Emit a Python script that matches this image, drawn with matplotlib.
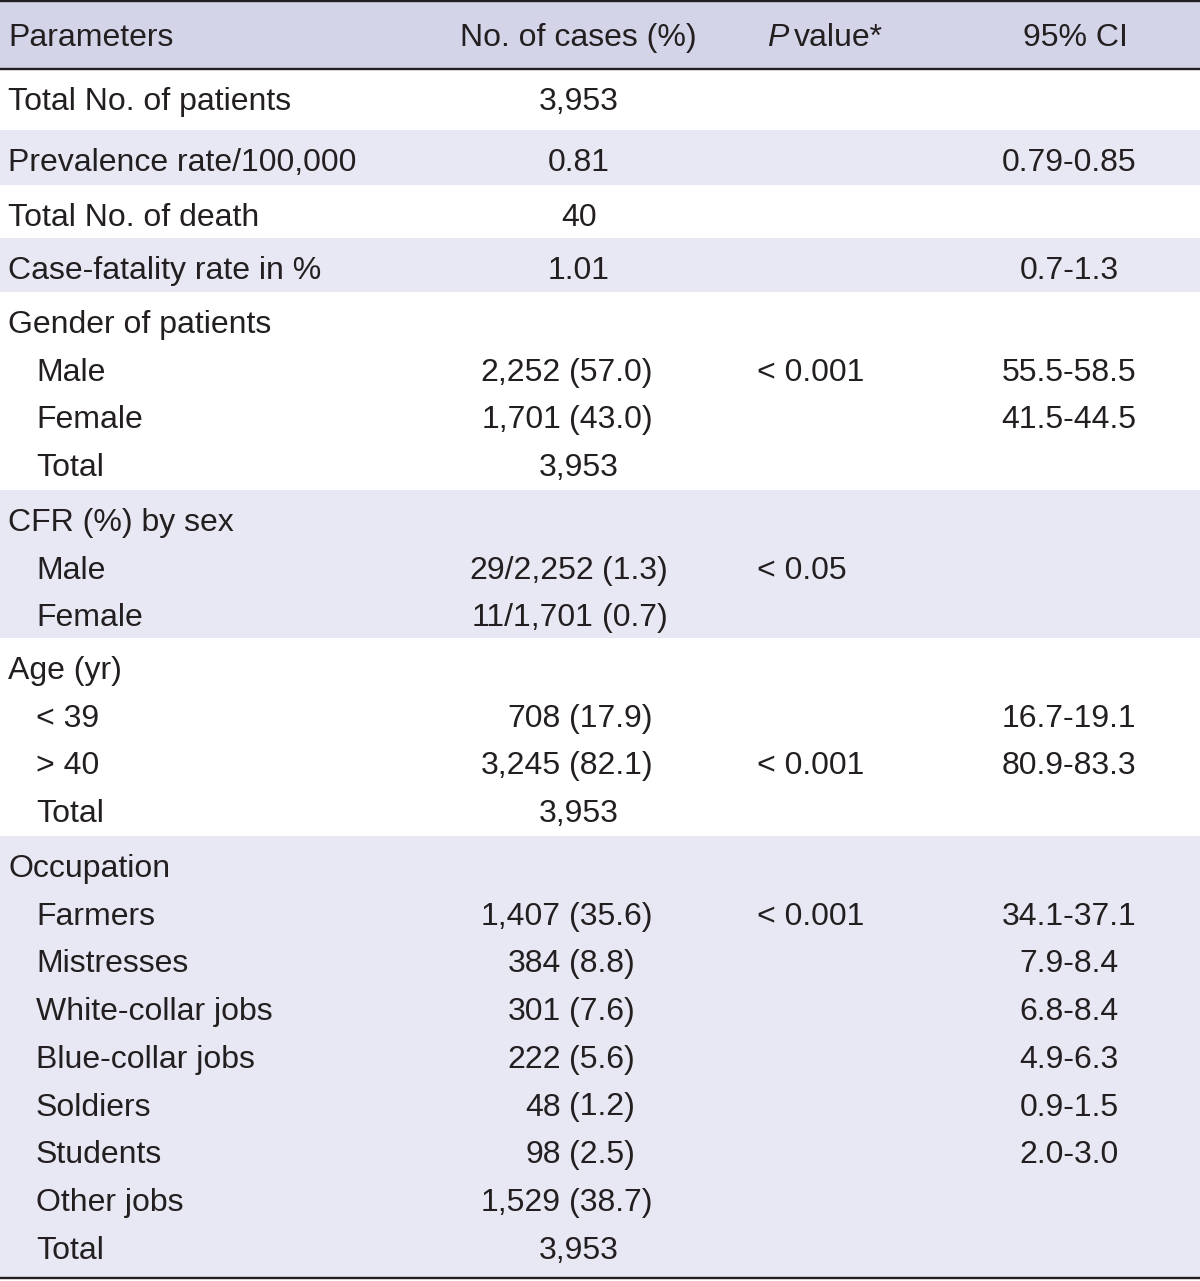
import matplotlib
matplotlib.use("Agg")
import matplotlib.pyplot as plt
from matplotlib.patches import Rectangle

plt.rcParams['font.family'] = ['Liberation Sans', 'DejaVu Sans']

# ---------------- data ----------------
headers = ["Parameters", "No. of cases (%)", "P value*", "95% CI"]

row_labels = ["Total No. of patients", "Prevalence rate/100,000", "Total No. of death",
              "Case-fatality rate in %",
              "Gender of patients", "Male", "Female", "Total",
              "CFR (%) by sex", "Male", "Female",
              "Age (yr)", "< 39", "> 40", "Total",
              "Occupation", "Farmers", "Mistresses", "White-collar jobs", "Blue-collar jobs",
              "Soldiers", "Students", "Other jobs", "Total"]

case_values = ["3,953", "0.81", "40", "1.01",
               "", "2,252 (57.0)", "1,701 (43.0)", "3,953",
               "", "29/2,252 (1.3)", "11/1,701 (0.7)",
               "", "708 (17.9)", "3,245 (82.1)", "3,953",
               "", "1,407 (35.6)", "384 (8.8)", "301 (7.6)", "222 (5.6)",
               "48 (1.2)", "98 (2.5)", "1,529 (38.7)", "3,953"]

p_values = ["", "", "", "",
            "", "< 0.001", "", "",
            "", "< 0.05", "",
            "", "", "< 0.001", "",
            "", "< 0.001", "", "", "", "", "", "", ""]

ci_values = ["", "0.79-0.85", "", "0.7-1.3",
             "", "55.5-58.5", "41.5-44.5", "",
             "", "", "",
             "", "16.7-19.1", "80.9-83.3", "",
             "", "34.1-37.1", "7.9-8.4", "6.8-8.4", "4.9-6.3",
             "0.9-1.5", "2.0-3.0", "", ""]

# rows per shaded/unshaded block
block_rows = [1, 1, 1, 1, 4, 3, 4, 9]

# ---------------- layout ----------------
W, H = 1200, 1281
fig = plt.figure(figsize=(W / 100, H / 100), dpi=100)
ax = fig.add_axes([0, 0, 1, 1])
ax.set_xlim(0, W)
ax.set_ylim(H, 0)
ax.axis('off')

HEADER_BG = "#d4d4e8"
SHADE_BG = "#e8e8f4"
LINE = "#231f20"
TXT = "#231f20"
FS = 23.0

block_heights = [61, 55, 53, 54, 198, 148, 198, 442]
header_top, header_bot = 1.5, 68.5

ax.add_patch(Rectangle((0, header_top), W, header_bot - header_top, color=HEADER_BG, lw=0))

# header text
hb = 46
ax.text(8, hb, headers[0], fontsize=FS, color=TXT, va='baseline', ha='left')
ax.text(578, hb, headers[1], fontsize=FS, color=TXT, va='baseline', ha='center')
ax.text(788, hb, "P", fontsize=FS, color=TXT, va='baseline', ha='right', style='italic')
ax.text(794, hb, headers[2][2:], fontsize=FS, color=TXT, va='baseline', ha='left')
ax.text(1075, hb, headers[3], fontsize=FS, color=TXT, va='baseline', ha='center')

y = header_bot
r = 0
for bi, (n, bh) in enumerate(zip(block_rows, block_heights)):
    if bi % 2 == 1:
        ax.add_patch(Rectangle((0, y), W, bh, color=SHADE_BG, lw=0))
    for i in range(n):
        base = y + 41.5 + 47.7 * i
        indent = 36 if (n > 1 and i > 0) else 8
        ax.text(indent, base, row_labels[r], fontsize=FS, color=TXT, va='baseline', ha='left')
        cv = case_values[r]
        if cv:
            if ' (' in cv:
                num, pct = cv.rsplit(' ', 1)
                anchor = 594 if '/' in num else 561
                ax.text(anchor, base, num, fontsize=FS, color=TXT, va='baseline', ha='right')
                ax.text(anchor + 8, base, pct, fontsize=FS, color=TXT, va='baseline', ha='left')
            else:
                ax.text(579, base, cv, fontsize=FS, color=TXT, va='baseline', ha='center')
        if p_values[r]:
            ax.text(757, base, p_values[r], fontsize=FS, color=TXT, va='baseline', ha='left')
        if ci_values[r]:
            ax.text(1069, base, ci_values[r], fontsize=FS, color=TXT, va='baseline', ha='center')
        r += 1
    y += bh

# rules
ax.plot([0, W], [1.2, 1.2], color=LINE, lw=1.7, solid_capstyle='butt')
ax.plot([0, W], [header_bot, header_bot], color=LINE, lw=1.7, solid_capstyle='butt')
ax.plot([0, W], [y, y], color=LINE, lw=1.7, solid_capstyle='butt')

fig.savefig("out.png", dpi=100, facecolor='white')
